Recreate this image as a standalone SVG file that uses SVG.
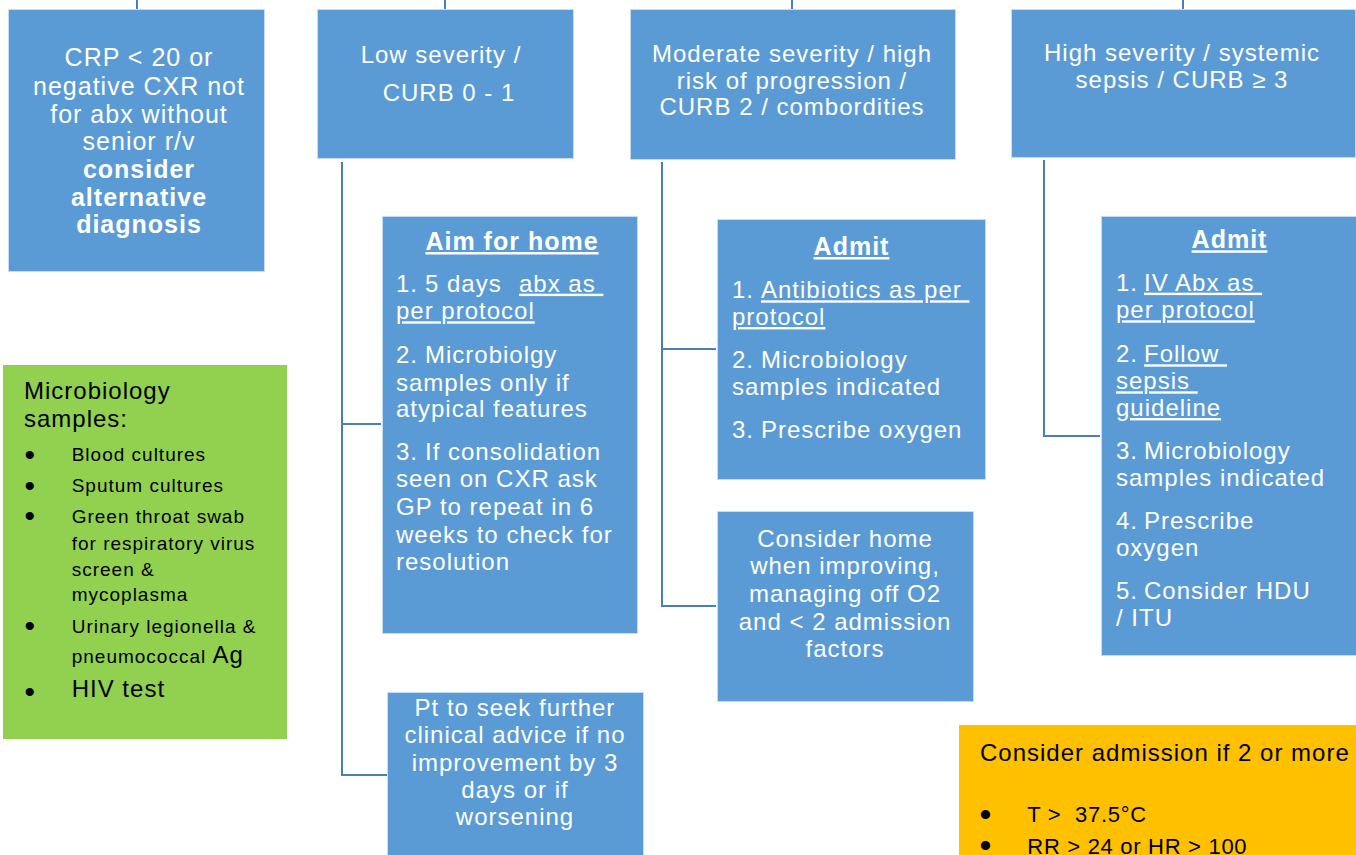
<svg xmlns="http://www.w3.org/2000/svg" width="1356" height="855" viewBox="0 0 1356 855">
<style>
.box{fill:#5b9bd5;stroke:#c6dcf0;stroke-width:1}
.grn{fill:#92d050}
.org{fill:#ffc000}
.ln{fill:none;stroke:#4a7ebb;stroke-width:2}
text{font-family:"Liberation Sans",Arial,sans-serif;font-size:24px;letter-spacing:1px;white-space:pre}
.w{fill:#fff}
.k{fill:#000}
.c{text-anchor:middle}
.b{font-weight:bold}
.u{text-decoration:underline}
.a{font-size:25px}
.s{font-size:19px}
.o{font-size:22px;letter-spacing:0.7px}
.bg{font-size:30px;letter-spacing:0}
.bo{font-size:34px;letter-spacing:0}
</style>
<g id="connectors">
<path class="ln" d="M137,0 V9 M445,0 V9 M792,0 V9 M1183,0 V9"/>
<path class="ln" d="M342,162 V775 H387 M342,424 H381"/>
<path class="ln" d="M662,162 V606 H716 M662,349 H716"/>
<path class="ln" d="M1044,160 V436 H1100"/>
</g>
<g id="crp">
<rect class="box" x="8.5" y="9.5" width="256" height="262"/>
<text class="w c a" x="139" y="66">CRP &lt; 20 or</text>
<text class="w c a" x="139" y="95">negative CXR not</text>
<text class="w c a" x="139" y="122.7">for abx without</text>
<text class="w c a" x="139" y="150">senior r/v</text>
<text class="w c a b" x="139" y="178">consider</text>
<text class="w c a b" x="139" y="206">alternative</text>
<text class="w c a b" x="139" y="233">diagnosis</text>
</g>
<g id="low">
<rect class="box" x="317.5" y="9.5" width="256" height="149"/>
<text class="w c" x="441" y="63">Low severity /</text>
<text class="w c" x="449" y="101">CURB 0 - 1</text>
</g>
<g id="moderate">
<rect class="box" x="630.5" y="9.5" width="325" height="150"/>
<text class="w c" x="792" y="61.5">Moderate severity / high</text>
<text class="w c" x="792" y="88.5">risk of progression /</text>
<text class="w c" x="792" y="115">CURB 2 / combordities</text>
</g>
<g id="high">
<rect class="box" x="1011.5" y="9.5" width="344" height="148"/>
<text class="w c" x="1182" y="60.7">High severity / systemic</text>
<text class="w c" x="1182" y="88">sepsis / CURB ≥ 3</text>
</g>
<g id="aim-home">
<rect class="box" x="382.5" y="216.5" width="255" height="417"/>
<text class="w c b u a" x="512" y="250">Aim for home</text>
<text class="w" x="396" y="291.7">1.<tspan x="425">5 days </tspan><tspan class="u" x="519">abx as </tspan></text>
<text class="w u" x="396" y="319.3">per protocol</text>
<text class="w" x="396" y="362.7">2.<tspan x="425">Microbiolgy</tspan></text>
<text class="w" x="396" y="390.7">samples only if</text>
<text class="w" x="396" y="417">atypical features</text>
<text class="w" x="396" y="460">3.<tspan x="425">If consolidation</tspan></text>
<text class="w" x="396" y="487">seen on CXR ask</text>
<text class="w" x="396" y="515">GP to repeat in 6</text>
<text class="w" x="396" y="543">weeks to check for</text>
<text class="w" x="396" y="570">resolution</text>
</g>
<g id="pt-advice">
<rect class="box" x="387.5" y="692.5" width="256" height="175"/>
<text class="w c" x="515" y="716">Pt to seek further</text>
<text class="w c" x="515" y="743.3">clinical advice if no</text>
<text class="w c" x="515" y="770.7">improvement by 3</text>
<text class="w c" x="515" y="798.3">days or if</text>
<text class="w c" x="515" y="825">worsening</text>
</g>
<g id="admit-moderate">
<rect class="box" x="717.5" y="219.5" width="268" height="260"/>
<text class="w c b u a" x="851.5" y="255">Admit</text>
<text class="w" x="732" y="298.3">1.<tspan class="u" x="761">Antibiotics as per </tspan></text>
<text class="w u" x="732" y="325">protocol</text>
<text class="w" x="732" y="368.3">2.<tspan x="761">Microbiology</tspan></text>
<text class="w" x="732" y="395">samples indicated</text>
<text class="w" x="732" y="438.3">3.<tspan x="761">Prescribe oxygen</tspan></text>
</g>
<g id="consider-home">
<rect class="box" x="717.5" y="511.5" width="256" height="190"/>
<text class="w c" x="845" y="546.7">Consider home</text>
<text class="w c" x="845" y="574">when improving,</text>
<text class="w c" x="845" y="601.7">managing off O2</text>
<text class="w c" x="845" y="630">and &lt; 2 admission</text>
<text class="w c" x="845" y="656.7">factors</text>
</g>
<g id="admit-high">
<rect class="box" x="1101.5" y="216.5" width="260" height="439"/>
<text class="w c b u a" x="1229.5" y="248.3">Admit</text>
<text class="w" x="1116" y="290.7">1.<tspan class="u" x="1144">IV Abx as </tspan></text>
<text class="w u" x="1116" y="318.3">per protocol</text>
<text class="w" x="1116" y="362.3">2.<tspan class="u" x="1144">Follow </tspan></text>
<text class="w u" x="1116" y="389.3">sepsis </text>
<text class="w u" x="1116" y="416">guideline</text>
<text class="w" x="1116" y="459.3">3.<tspan x="1144">Microbiology</tspan></text>
<text class="w" x="1116" y="486">samples indicated</text>
<text class="w" x="1116" y="529.3">4.<tspan x="1144">Prescribe</tspan></text>
<text class="w" x="1116" y="556">oxygen</text>
<text class="w" x="1116" y="599">5.<tspan x="1144">Consider HDU</tspan></text>
<text class="w" x="1116" y="626">/ ITU</text>
</g>
<g id="microbiology">
<rect class="grn" x="3" y="365" width="284" height="374"/>
<text class="k" x="24" y="399.3">Microbiology</text>
<text class="k" x="24" y="426.7">samples:</text>
<text class="k bg" x="24.5" y="465.2">•</text>
<text class="k s" x="71.7" y="461">Blood cultures</text>
<text class="k bg" x="24.5" y="496.2">•</text>
<text class="k s" x="71.7" y="491.7">Sputum cultures</text>
<text class="k bg" x="24.5" y="525.5">•</text>
<text class="k s" x="71.7" y="523">Green throat swab</text>
<text class="k s" x="71.7" y="549.5">for respiratory virus</text>
<text class="k s" x="71.7" y="576">screen &amp;</text>
<text class="k s" x="71.7" y="601">mycoplasma</text>
<text class="k bg" x="24.5" y="636.2">•</text>
<text class="k s" x="71.7" y="633">Urinary legionella &amp;</text>
<text class="k s" x="71.7" y="663.3">pneumococcal <tspan style="font-size:24px">Ag</tspan></text>
<text class="k bg" x="24.5" y="701.8">•</text>
<text class="k" x="71.7" y="696.7">HIV test</text>
</g>
<g id="admission-criteria">
<rect class="org" x="959" y="725" width="397" height="140"/>
<text class="k" x="980" y="761">Consider admission if 2 or more</text>
<text class="k bo" x="979.6" y="826">•</text>
<text class="k o" x="1027.3" y="822.3">T &gt;  37.5°C</text>
<text class="k bo" x="979.6" y="856.5">•</text>
<text class="k o" x="1027.3" y="853.5">RR &gt; 24 or HR &gt; 100</text>
</g>
</svg>
